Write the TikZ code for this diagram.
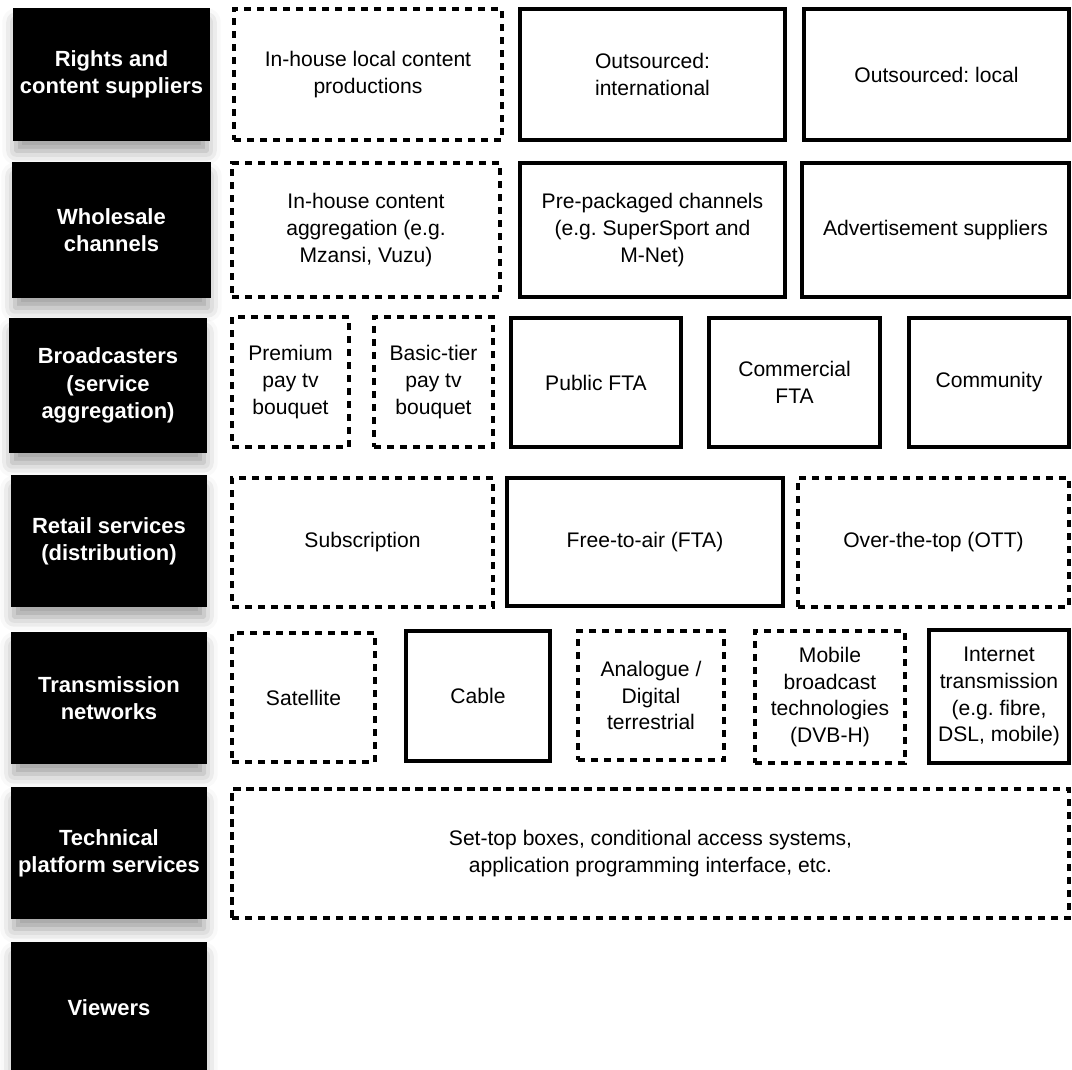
\documentclass[tikz,border=0pt]{standalone}
\usepackage{fontspec}
\setmainfont{Liberation Sans}
\frenchspacing
\usetikzlibrary{shadows.blur}

\begin{document}
\begin{tikzpicture}[x=0.02cm, y=-0.02cm,
  every node/.style={font=\fontsize{12}{15.3}\selectfont, align=center, inner sep=0pt},
  wh/.style 2 args={minimum width=#1*0.02cm, minimum height=#2*0.02cm},
  layer/.style={fill=black, text=white, font=\fontsize{12.5}{15.5}\selectfont\bfseries,
    blur shadow={shadow xshift=0pt, shadow yshift=-7pt, shadow scale=0.97, shadow blur radius=8pt, shadow opacity=40}},
  solidbox/.style={draw, line width=1.9pt},
  dashbox/.style={draw, line width=1.8pt, dash pattern=on 4.2pt off 3.2pt}]

\useasboundingbox (0,0) rectangle (1072,1070);

% value chain layers
\node[layer, wh={197}{133}] (rights) at (111.5,74.5) {Rights and\\content suppliers};
\node[layer, wh={199}{136}] (wholesale) at (111.5,230) {Wholesale\\channels};
\node[layer, wh={198}{135}] (broadcast) at (108,385.5) {Broadcasters\\(service\\aggregation)};
\node[layer, wh={196}{132}] (retail) at (109,541) {Retail services\\(distribution)};
\node[layer, wh={196}{132}] (transmission) at (109,698) {Transmission\\networks};
\node[layer, wh={196}{132}] (technical) at (109,853) {Technical\\platform services};
\node[layer, wh={196}{132}] (viewers) at (109,1008) {Viewers};

% rights and content
\node[dashbox, wh={268}{131}] (inhouse) at (368,74.5) {In-house local content\\productions};
\node[solidbox, wh={265}{131}] (intl) at (652.5,74.5) {Outsourced:\\international};
\node[solidbox, wh={265}{131}] (local) at (936.5,74.5) {Outsourced: local};

% wholesale
\node[dashbox, wh={268}{134}] (aggregation) at (366,230) {In-house content\\aggregation (e.g.\\Mzansi, Vuzu)};
\node[solidbox, wh={265}{134}] (prepacked) at (652.5,230) {Pre-packaged channels\\(e.g. SuperSport and\\M-Net)};
\node[solidbox, wh={267}{134}] (advert) at (935.5,230) {Advertisement suppliers};

% broadcasters
\node[dashbox, wh={117}{130}] (premium) at (290.5,382) {Premium\\pay tv\\bouquet};
\node[dashbox, wh={119}{130}] (basic) at (433.5,382) {Basic-tier\\pay tv\\bouquet};
\node[solidbox, wh={170}{129}] (public) at (596,382.5) {Public FTA};
\node[solidbox, wh={171}{129}] (commercial) at (794.5,382.5) {Commercial\\FTA};
\node[solidbox, wh={160}{129}] (community) at (989,382.5) {Community};

% retail
\node[dashbox, wh={261}{129}] (subscription) at (362.5,542.5) {Subscription};
\node[solidbox, wh={276}{128}] (fta) at (645,542) {Free-to-air (FTA)};
\node[dashbox, wh={271}{129}] (ott) at (933.5,542.5) {Over-the-top (OTT)};

% transmission
\node[dashbox, wh={143}{129}] (satellite) at (303.5,697.5) {Satellite};
\node[solidbox, wh={144}{130}] (cable) at (478,696) {Cable};
\node[dashbox, wh={146}{129}] (terrestrial) at (651,695.5) {Analogue /\\Digital\\terrestrial};
\node[dashbox, wh={150}{132}] (mobile) at (830,697) {Mobile\\broadcast\\technologies\\(DVB-H)};
\node[solidbox, wh={140}{133}] (internet) at (999,696.5) {Internet\\transmission\\(e.g. fibre,\\DSL, mobile)};

% technical platform
\node[dashbox, wh={837}{129}] (settop) at (650.5,853.5) {Set-top boxes, conditional access systems,\\application programming interface, etc.};

\end{tikzpicture}
\end{document}
